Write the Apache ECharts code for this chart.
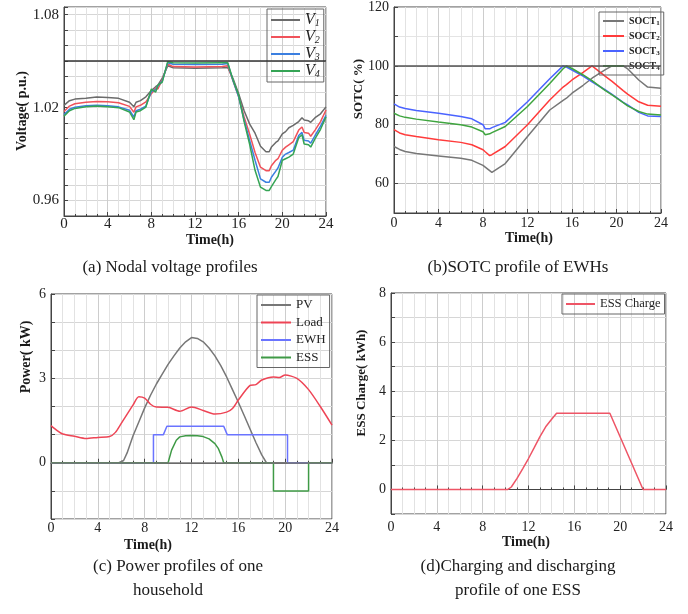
<!DOCTYPE html>
<html>
<head>
<meta charset="utf-8">
<script src="https://cdn.jsdelivr.net/npm/echarts@6/dist/echarts.min.js"></script>
<style>
  html, body { margin: 0; padding: 0; background: #fff; }
  #chart { width: 688px; height: 614px; }
</style>
</head>
<body>
<div id="chart"></div>
<script>
const SERIF = "'Liberation Serif', 'Times New Roman', serif";

// (a) nodal voltages, p.u.
const vHours = [0, 0.5, 1, 2, 3, 4, 5, 6, 6.4, 6.6, 7, 7.5, 8, 8.4, 8.6, 9, 9.5, 10, 12, 14.5, 15, 15.5, 16, 16.5, 17, 17.5, 18, 18.5, 18.8, 19, 19.4, 19.6, 20, 20.3, 20.6, 21, 21.5, 21.8, 22, 22.4, 22.6, 23, 23.5, 24];
const v1 = [1.0215, 1.0245, 1.0255, 1.026, 1.0268, 1.0265, 1.026, 1.0235, 1.0205, 1.0235, 1.0245, 1.027, 1.031, 1.0335, 1.0345, 1.039, 1.047, 1.0458, 1.0455, 1.0457, 1.046, 1.0385, 1.029, 1.018, 1.0095, 1.0035, 0.995, 0.9915, 0.9915, 0.9945, 0.9975, 0.9985, 1.003, 1.0045, 1.007, 1.0085, 1.011, 1.0135, 1.012, 1.0115, 1.0105, 1.0135, 1.016, 1.0205];
const v2 = [1.0175, 1.021, 1.0225, 1.0235, 1.024, 1.0238, 1.0232, 1.0208, 1.017, 1.0205, 1.0215, 1.0237, 1.029, 1.0325, 1.032, 1.038, 1.048, 1.0465, 1.0463, 1.0465, 1.047, 1.037, 1.027, 1.014, 1.003, 0.991, 0.9815, 0.9793, 0.9793, 0.9825, 0.986, 0.987, 0.9925, 0.9945, 0.996, 0.998, 1.0055, 1.0075, 1.004, 1.0035, 1.0015, 1.0055, 1.011, 1.0185];
const v3 = [1.0155, 1.019, 1.0203, 1.0212, 1.0216, 1.0212, 1.0205, 1.0183, 1.014, 1.018, 1.019, 1.021, 1.0305, 1.0315, 1.034, 1.037, 1.049, 1.048, 1.0478, 1.048, 1.0485, 1.037, 1.027, 1.012, 0.999, 0.986, 0.974, 0.9718, 0.9718, 0.975, 0.979, 0.981, 0.988, 0.99, 0.991, 0.9925, 1.002, 1.004, 0.999, 0.9985, 0.997, 1.002, 1.008, 1.015];
const v4 = [1.0145, 1.018, 1.0195, 1.0205, 1.021, 1.0205, 1.02, 1.0172, 1.0122, 1.0172, 1.018, 1.0204, 1.032, 1.03, 1.0345, 1.0365, 1.0497, 1.049, 1.0488, 1.049, 1.049, 1.0375, 1.028, 1.011, 0.9965, 0.9795, 0.9686, 0.9665, 0.9665, 0.969, 0.9735, 0.9755, 0.986, 0.987, 0.988, 0.99, 1.0005, 1.0025, 0.9965, 0.996, 0.9945, 1.0, 1.006, 1.014];
const vLimit = 1.054;

// (b) SOTC of the water heaters, %
const sHours = [0, 0.5, 1, 2, 4, 6, 7, 8, 8.2, 8.6, 8.8, 10, 12, 14, 15.2, 15.5, 16, 17, 17.8, 19, 19.6, 20.6, 21, 22, 22.8, 24];
const soct1 = [72.6, 71.6, 70.9, 70.2, 69.4, 68.6, 67.9, 66.2, 65.6, 64.4, 63.8, 66.8, 76, 85, 88.3, 89, 90.7, 93.4, 95.8, 98.7, 100, 100, 99, 95.2, 92.8, 92.4];
const soct2 = [78.3, 77.2, 76.6, 76, 74.9, 74, 73.2, 71.5, 70.8, 69.5, 69.8, 72.6, 80, 88.4, 92.8, 93.6, 95.2, 97.8, 100, 96.4, 94.7, 91.6, 90.4, 87.8, 86.6, 86.3];
const soct3 = [87.1, 86, 85.5, 84.8, 83.9, 82.8, 82, 80, 78.6, 78.6, 79, 80.8, 87.8, 95.6, 100, 99.6, 98.6, 96.5, 94.6, 91.8, 90.3, 87.6, 86.7, 84.2, 83, 82.8];
const soct4 = [83.9, 83, 82.5, 81.9, 80.9, 80, 79.2, 77.6, 76.6, 76.9, 77.3, 79.4, 86.2, 94, 99, 100, 99.1, 96.9, 95, 91.6, 90.1, 87.5, 86.4, 84.5, 83.6, 83.3];
const sotcLimit = 100;

// (c) household power, kW
const pvHours = [0, 5.8, 6.2, 6.5, 7, 7.5, 8, 8.5, 9, 9.5, 10, 10.5, 11, 11.5, 12, 12.5, 13, 13.5, 14, 14.5, 15, 15.5, 16, 16.5, 17, 17.5, 18, 18.4, 24];
const pv = [0, 0, 0.08, 0.35, 0.95, 1.45, 1.95, 2.4, 2.8, 3.15, 3.5, 3.8, 4.08, 4.3, 4.45, 4.42, 4.3, 4.08, 3.8, 3.45, 3.05, 2.6, 2.15, 1.68, 1.2, 0.72, 0.28, 0, 0];
const loadHours = [0, 0.5, 1, 2, 3, 4, 5, 5.5, 6, 7, 7.5, 8, 8.5, 9, 10, 11, 12, 13, 14, 15, 15.5, 16, 17, 17.5, 18, 19, 19.5, 20, 21, 22, 23, 24];
const load = [1.32, 1.15, 1.02, 0.94, 0.86, 0.9, 0.93, 1.08, 1.4, 2.05, 2.35, 2.3, 2.08, 1.98, 1.97, 1.83, 1.98, 1.86, 1.73, 1.8, 1.93, 2.23, 2.75, 2.78, 2.94, 3.05, 3.03, 3.12, 3.0, 2.6, 2.0, 1.34];
const ewhHours = [0, 8.75, 8.75, 9.6, 9.9, 14.75, 15.05, 20.2, 20.2, 24];
const ewh = [0, 0, 1, 1, 1.3, 1.3, 1.0, 1.0, 0, 0];
const essHours = [0, 10, 10.3, 10.7, 11, 11.5, 12, 12.5, 13, 13.5, 14, 14.3, 14.6, 14.75, 19, 19, 22, 22, 24];
const ess = [0, 0, 0.45, 0.8, 0.92, 0.96, 0.97, 0.96, 0.93, 0.85, 0.68, 0.5, 0.2, 0, 0, -1, -1, 0, 0];

// (d) ESS state of charge, kWh
const chargeHours = [0, 10.2, 10.5, 11, 11.5, 12, 12.5, 13, 13.5, 14, 14.45, 19.1, 22, 24];
const charge = [0, 0, 0.1, 0.45, 0.85, 1.26, 1.7, 2.15, 2.55, 2.85, 3.1, 3.1, 0, 0];

const pairs = (xs, ys) => xs.map((x, i) => [x, ys[i]]);

function timeAxis(gridIndex, fontSize, margin) {
  return {
    type: 'value', gridIndex: gridIndex, min: 0, max: 24, interval: 4,
    axisLine: { show: true, lineStyle: { color: '#444' } },
    axisTick: { inside: true, length: 4, lineStyle: { color: '#444' } },
    minorTick: { show: true, splitNumber: 4, length: 2, lineStyle: { color: '#444' } },
    splitLine: { show: true, lineStyle: { color: '#cdcdcd' } },
    minorSplitLine: { show: true, lineStyle: { color: '#e2e2e2' } },
    axisLabel: { fontFamily: SERIF, fontSize: fontSize, color: '#222', margin: margin }
  };
}

function valueAxis(gridIndex, min, max, interval, labelFn, fontSize, splitColor) {
  return {
    type: 'value', gridIndex: gridIndex, min: min, max: max, interval: interval,
    axisLine: { show: true, lineStyle: { color: '#444' } },
    axisTick: { inside: true, length: 4, lineStyle: { color: '#444' } },
    splitLine: { show: true, lineStyle: { color: splitColor || '#d6d6d6' } },
    axisLabel: { fontFamily: SERIF, fontSize: fontSize, color: '#222', margin: 5, formatter: labelFn }
  };
}

function line(name, xi, xs, ys, color, extra) {
  return Object.assign({
    type: 'line', name: name, xAxisIndex: xi, yAxisIndex: xi,
    data: pairs(xs, ys), symbol: 'none', color: color,
    lineStyle: { width: 1.5 }, animation: false
  }, extra || {});
}

function limitLine(value, color) {
  return {
    silent: true, symbol: 'none', label: { show: false },
    lineStyle: { color: color, width: 1.5, type: 'solid' },
    data: [{ yAxis: value }]
  };
}

function boxLegend(names, left, top, opts) {
  return Object.assign({
    data: names, orient: 'vertical', left: left, top: top, icon: 'rect',
    itemHeight: 2, borderColor: '#666', borderWidth: 1, padding: [3, 4, 3, 4]
  }, opts);
}

function label(text, x, y, size, weight, rotate) {
  return {
    type: 'text', x: x, y: y, rotation: rotate ? Math.PI / 2 : 0,
    style: { text: text, fontFamily: SERIF, fontSize: size, fontWeight: weight, fill: '#1a1a1a', align: 'center', verticalAlign: 'middle' }
  };
}

const chart = echarts.init(document.getElementById('chart'));

chart.setOption({
  animation: false,
  grid: [
    { left: 64, top: 7, width: 262, height: 209, show: true, borderColor: '#444', borderWidth: 1 },
    { left: 394, top: 7, width: 267, height: 206, show: true, borderColor: '#444', borderWidth: 1 },
    { left: 51, top: 294, width: 281, height: 225, show: true, borderColor: '#444', borderWidth: 1 },
    { left: 391, top: 293, width: 275, height: 221, show: true, borderColor: '#444', borderWidth: 1 }
  ],
  xAxis: [timeAxis(0, 15, 1), timeAxis(1, 14, 3), timeAxis(2, 14, 2), timeAxis(3, 14, 6)],
  yAxis: [
    valueAxis(0, 0.95, 1.085, 0.01, v => {
      const k = v * 100;
      return Math.abs(k - Math.round(k)) < 1e-6 && Math.round(k) % 6 === 0 ? v.toFixed(2) : '';
    }, 15),
    valueAxis(1, 50, 120, 10, v => (v >= 60 && v % 20 === 0 ? v : ''), 14, ['#e4e4e4', '#bdbdbd']),
    valueAxis(2, -2, 6, 1, v => (v >= 0 && v % 3 === 0 ? v : ''), 14),
    valueAxis(3, -1, 8, 1, v => (v >= 0 && v % 2 === 0 ? v : ''), 14)
  ],
  legend: [
    boxLegend(['V1', 'V2', 'V3', 'V4'], 267, 9, {
      itemWidth: 29, itemGap: 1,
      formatter: n => 'V{s|' + n.slice(1) + '}',
      textStyle: {
        fontFamily: SERIF, fontStyle: 'italic', fontSize: 16, lineHeight: 16, color: '#222',
        rich: { s: { fontFamily: SERIF, fontStyle: 'italic', fontSize: 10, verticalAlign: 'bottom', color: '#222' } }
      }
    }),
    boxLegend(['SOCT1', 'SOCT2', 'SOCT3', 'SOCT4'], 599, 12, {
      itemWidth: 21, itemGap: 3,
      formatter: n => n.slice(0, 4) + '{s|' + n.slice(4) + '}',
      textStyle: {
        fontFamily: SERIF, fontWeight: 'bold', fontSize: 10, lineHeight: 12, color: '#222',
        rich: { s: { fontFamily: SERIF, fontSize: 7, verticalAlign: 'bottom', color: '#222' } }
      }
    }),
    boxLegend(['PV', 'Load', 'EWH', 'ESS'], 257, 295, {
      itemWidth: 30, itemGap: 3.5,
      textStyle: { fontFamily: SERIF, fontSize: 13, lineHeight: 14, color: '#222' }
    }),
    boxLegend(['ESS Charge'], 562, 294, {
      itemWidth: 29, itemGap: 4,
      textStyle: { fontFamily: SERIF, fontSize: 12.5, lineHeight: 14, color: '#222' }
    })
  ],
  series: [
    line('V1', 0, vHours, v1, '#6b6b6b', { markLine: limitLine(vLimit, '#333') }),
    line('V2', 0, vHours, v2, '#f0525a'),
    line('V3', 0, vHours, v3, '#3b7fe0'),
    line('V4', 0, vHours, v4, '#35a455'),

    line('SOCT1', 1, sHours, soct1, '#777777', { markLine: limitLine(sotcLimit, '#555') }),
    line('SOCT2', 1, sHours, soct2, '#ff3b3b'),
    line('SOCT3', 1, sHours, soct3, '#4a63ff'),
    line('SOCT4', 1, sHours, soct4, '#3fa53f'),

    line('PV', 2, pvHours, pv, '#777777', { markLine: limitLine(0, '#777') }),
    line('Load', 2, loadHours, load, '#ee4455', { smooth: 0.25 }),
    line('EWH', 2, ewhHours, ewh, '#6a74ff'),
    line('ESS', 2, essHours, ess, '#3f9a46'),

    line('ESS Charge', 3, chargeHours, charge, '#ee5566')
  ],
  graphic: [
    label('Voltage( p.u.)', 22, 111, 14, 'bold', true),
    label('SOTC( %)', 359, 89, 13, 'bold', true),
    label('Power( kW)', 26, 357, 14, 'bold', true),
    label('ESS Charge( kWh)', 362, 383, 13, 'bold', true),
    label('Time(h)', 210, 240, 14, 'bold'),
    label('Time(h)', 529, 238, 14, 'bold'),
    label('Time(h)', 148, 545, 14, 'bold'),
    label('Time(h)', 526, 542, 14, 'bold'),
    label('(a) Nodal voltage profiles', 170, 268, 17, 'normal'),
    label('(b)SOTC profile of EWHs', 518, 268, 17, 'normal'),
    label('(c) Power profiles of one', 178, 567, 17, 'normal'),
    label('household', 168, 591, 17, 'normal'),
    label('(d)Charging and discharging', 518, 567, 17, 'normal'),
    label('profile of one ESS', 518, 591, 17, 'normal')
  ]
});
</script>
</body>
</html>
